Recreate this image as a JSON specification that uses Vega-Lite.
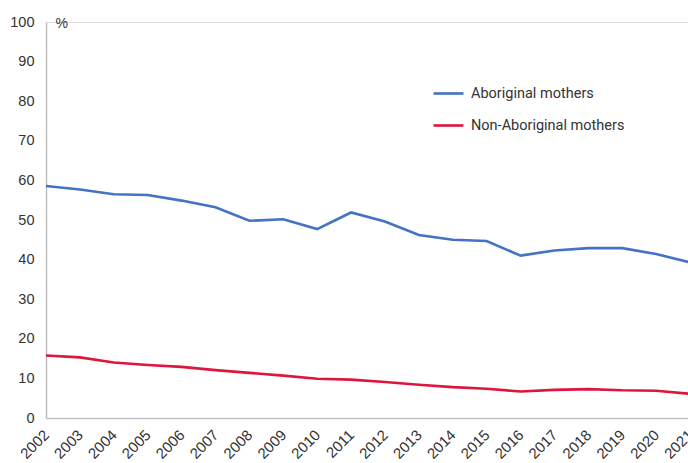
{
  "$schema": "https://vega.github.io/schema/vega-lite/v6.json",
  "autosize": {"type": "none"},
  "padding": {"left": 46, "top": 22, "right": 0, "bottom": 45},
  "width": 644,
  "height": 396,
  "background": "white",
  "data": {
    "values": [
      {"year": "2002", "group": "Aboriginal mothers", "pct": 58.6},
      {"year": "2003", "group": "Aboriginal mothers", "pct": 57.7},
      {"year": "2004", "group": "Aboriginal mothers", "pct": 56.5},
      {"year": "2005", "group": "Aboriginal mothers", "pct": 56.3},
      {"year": "2006", "group": "Aboriginal mothers", "pct": 54.9},
      {"year": "2007", "group": "Aboriginal mothers", "pct": 53.2},
      {"year": "2008", "group": "Aboriginal mothers", "pct": 49.8},
      {"year": "2009", "group": "Aboriginal mothers", "pct": 50.2},
      {"year": "2010", "group": "Aboriginal mothers", "pct": 47.7},
      {"year": "2011", "group": "Aboriginal mothers", "pct": 51.9},
      {"year": "2012", "group": "Aboriginal mothers", "pct": 49.6},
      {"year": "2013", "group": "Aboriginal mothers", "pct": 46.2},
      {"year": "2014", "group": "Aboriginal mothers", "pct": 45.0},
      {"year": "2015", "group": "Aboriginal mothers", "pct": 44.7},
      {"year": "2016", "group": "Aboriginal mothers", "pct": 41.0},
      {"year": "2017", "group": "Aboriginal mothers", "pct": 42.3},
      {"year": "2018", "group": "Aboriginal mothers", "pct": 42.9},
      {"year": "2019", "group": "Aboriginal mothers", "pct": 42.9},
      {"year": "2020", "group": "Aboriginal mothers", "pct": 41.4},
      {"year": "2021", "group": "Aboriginal mothers", "pct": 39.3},
      {"year": "2002", "group": "Non-Aboriginal mothers", "pct": 15.8},
      {"year": "2003", "group": "Non-Aboriginal mothers", "pct": 15.3},
      {"year": "2004", "group": "Non-Aboriginal mothers", "pct": 14.0},
      {"year": "2005", "group": "Non-Aboriginal mothers", "pct": 13.4},
      {"year": "2006", "group": "Non-Aboriginal mothers", "pct": 12.9},
      {"year": "2007", "group": "Non-Aboriginal mothers", "pct": 12.1},
      {"year": "2008", "group": "Non-Aboriginal mothers", "pct": 11.4},
      {"year": "2009", "group": "Non-Aboriginal mothers", "pct": 10.7},
      {"year": "2010", "group": "Non-Aboriginal mothers", "pct": 9.9},
      {"year": "2011", "group": "Non-Aboriginal mothers", "pct": 9.7},
      {"year": "2012", "group": "Non-Aboriginal mothers", "pct": 9.1},
      {"year": "2013", "group": "Non-Aboriginal mothers", "pct": 8.4},
      {"year": "2014", "group": "Non-Aboriginal mothers", "pct": 7.8},
      {"year": "2015", "group": "Non-Aboriginal mothers", "pct": 7.4},
      {"year": "2016", "group": "Non-Aboriginal mothers", "pct": 6.7},
      {"year": "2017", "group": "Non-Aboriginal mothers", "pct": 7.1},
      {"year": "2018", "group": "Non-Aboriginal mothers", "pct": 7.3},
      {"year": "2019", "group": "Non-Aboriginal mothers", "pct": 7.0},
      {"year": "2020", "group": "Non-Aboriginal mothers", "pct": 6.9},
      {"year": "2021", "group": "Non-Aboriginal mothers", "pct": 6.1}
    ]
  },
  "mark": {"type": "line", "strokeWidth": 2.6, "clip": false},
  "encoding": {
    "x": {
      "field": "year",
      "type": "ordinal",
      "scale": {"type": "point", "padding": 0},
      "axis": {
        "title": null,
        "labelAngle": -45,
        "labelAlign": "right",
        "labelBaseline": "middle",
        "labelPadding": 14,
        "labelFont": "Liberation Sans",
        "labelFontSize": 15,
        "labelColor": "#333333",
        "ticks": false,
        "domainColor": "#c0c0c0",
        "domainWidth": 1.5,
        "grid": false
      }
    },
    "y": {
      "field": "pct",
      "type": "quantitative",
      "scale": {"domain": [0, 100], "nice": false},
      "axis": {
        "title": "%",
        "titleAngle": 0,
        "titleAlign": "left",
        "titleBaseline": "middle",
        "titleX": 9,
        "titleY": 1,
        "titleFont": "Liberation Sans",
        "titleFontSize": 14,
        "titleFontWeight": "normal",
        "titleColor": "#333333",
        "values": [0, 10, 20, 30, 40, 50, 60, 70, 80, 90, 100],
        "labelFont": "Liberation Sans",
        "labelFontSize": 14.5,
        "labelColor": "#333333",
        "labelPadding": 12,
        "ticks": false,
        "domainColor": "#c0c0c0",
        "domainWidth": 1.5,
        "grid": false
      }
    },
    "color": {
      "field": "group",
      "type": "nominal",
      "scale": {
        "domain": ["Aboriginal mothers", "Non-Aboriginal mothers"],
        "range": ["#4472c4", "#dc163c"]
      },
      "legend": {
        "title": null,
        "orient": "none",
        "legendX": 386,
        "legendY": 55,
        "symbolType": "stroke",
        "symbolSize": 900,
        "symbolStrokeWidth": 2.6,
        "labelFont": "Roboto",
        "labelFontSize": 14.5,
        "labelColor": "#333333",
        "labelOffset": 6,
        "rowPadding": 9,
        "padding": 0
      }
    }
  }
}
